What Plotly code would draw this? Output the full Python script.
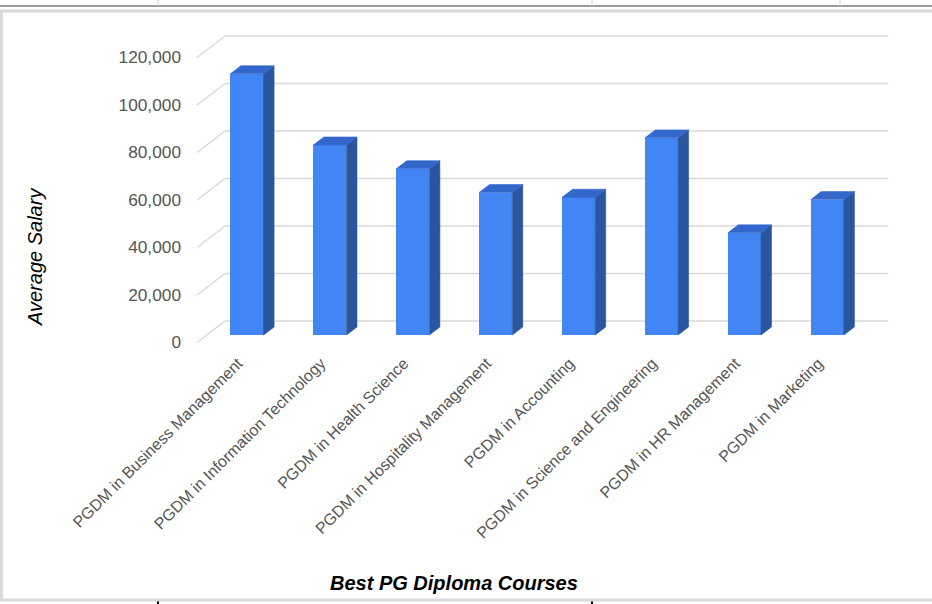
import plotly.graph_objects as go

# ---------------- data ----------------
categories = [
    "PGDM in Business Management",
    "PGDM in Information Technology",
    "PGDM in Health Science",
    "PGDM in Hospitality Management",
    "PGDM in Accounting",
    "PGDM in Science and Engineering",
    "PGDM in HR Management",
    "PGDM in Marketing",
]
salaries = [110000, 80000, 70000, 60000, 58000, 83000, 43000, 57000]
y_ticks = [0, 20000, 40000, 60000, 80000, 100000, 120000]
y_tick_labels = ["0", "20,000", "40,000", "60,000", "80,000", "100,000", "120,000"]
x_title = "Best PG Diploma Courses"
y_title = "Average Salary"

# ---------------- geometry (pixels) ----------------
W, H = 932, 604
L_PX, R_PX, T_PX, B_PX = 188, 900, 25, 345
X0_PX, PX_PER_X = 247.0, 82.9          # pixel of category 0, pixels per category
Y0_PX, PX_PER_Y = 335.0, 0.002375       # pixel of value 0, pixels per unit value

x_range = [(L_PX - X0_PX) / PX_PER_X, (R_PX - X0_PX) / PX_PER_X]
y_range = [-(B_PX - Y0_PX) / PX_PER_Y, (Y0_PX - T_PX) / PX_PER_Y]

def dxu(px):
    return px / PX_PER_X

def dyu(px):
    return px / PX_PER_Y

def xp(px):
    return (px - L_PX) / (R_PX - L_PX)

def yp(py):
    return (B_PX - py) / (B_PX - T_PX)

BAR_W = 0.4
DEPTH_X, DEPTH_Y = dxu(10.5), dyu(8)      # bar depth offsets
BACK_X, BACK_Y = dxu(19.5), dyu(14)       # bar plane -> back wall
FRONT_X, FRONT_Y = dxu(-8.5), dyu(-7.5)   # bar plane -> front floor edge

FRONT_C = "#4285f4"
SIDE_C = "#2a56a0"
TOP_C = "#3367cc"
GRID_C = "#d9d9d9"

fig = go.Figure()

# side and top faces (pseudo 3D)
n = len(categories)
for i, v in enumerate(salaries):
    x0 = i - BAR_W / 2
    x1 = i + BAR_W / 2
    fig.add_trace(go.Scatter(
        x=[x1, x1 + DEPTH_X, x1 + DEPTH_X, x1, x1],
        y=[0, DEPTH_Y, v + DEPTH_Y, v, 0],
        mode="lines", fill="toself", fillcolor=SIDE_C,
        line=dict(color=SIDE_C, width=0.6), hoverinfo="skip", showlegend=False))
    fig.add_trace(go.Scatter(
        x=[x0, x0 + DEPTH_X, x1 + DEPTH_X, x1, x0],
        y=[v, v + DEPTH_Y, v + DEPTH_Y, v, v],
        mode="lines", fill="toself", fillcolor=TOP_C,
        line=dict(color=TOP_C, width=0.6), hoverinfo="skip", showlegend=False))

# front faces
fig.add_trace(go.Bar(
    x=list(range(n)), y=salaries, width=BAR_W,
    marker=dict(color=FRONT_C, line=dict(width=0)),
    hovertext=categories, hoverinfo="text+y", showlegend=False))

# back wall gridlines + floor diagonals
shapes = []
for t in y_ticks:
    shapes.append(dict(type="line", xref="x", yref="y", layer="below",
                       x0=-0.5 + BACK_X, x1=n - 0.5 + BACK_X,
                       y0=t + BACK_Y, y1=t + BACK_Y,
                       line=dict(color=GRID_C, width=1.6)))
    shapes.append(dict(type="line", xref="x", yref="y", layer="below",
                       x0=-0.5 + FRONT_X, x1=-0.5 + BACK_X,
                       y0=t + FRONT_Y, y1=t + BACK_Y,
                       line=dict(color=GRID_C, width=1.4)))

# spreadsheet surroundings / chart frame (paper coordinates)
shapes.append(dict(type="line", xref="paper", yref="paper", x0=xp(0), x1=xp(W),
                   y0=yp(6), y1=yp(6), line=dict(color="#9a9a9a", width=2)))
for vx in (158, 592, 840):
    shapes.append(dict(type="line", xref="paper", yref="paper", x0=xp(vx), x1=xp(vx),
                       y0=yp(0), y1=yp(6), line=dict(color="#cfcfcf", width=1)))
for vx in (158, 592):
    shapes.append(dict(type="line", xref="paper", yref="paper", x0=xp(vx), x1=xp(vx),
                       y0=yp(601), y1=yp(604), line=dict(color="#000000", width=2)))
shapes.append(dict(type="rect", xref="paper", yref="paper",
                   x0=xp(1.5), x1=xp(W + 10), y0=yp(11), y1=yp(600),
                   line=dict(color="#dadada", width=3)))

fig.update_layout(
    width=W, height=H,
    margin=dict(l=L_PX, r=W - R_PX, t=T_PX, b=H - B_PX),
    paper_bgcolor="white", plot_bgcolor="white",
    shapes=shapes,
    bargap=0,
    font=dict(family="Arial, 'Liberation Sans', sans-serif"),
    xaxis=dict(range=x_range, tickmode="array", tickvals=list(range(n)),
               ticktext=categories, tickangle=-45, showgrid=False, zeroline=False,
               showline=False, ticks="", ticklabelstandoff=5, ticklabelshift=-9,
               tickfont=dict(size=16, color="#555555")),
    yaxis=dict(range=y_range, tickmode="array", tickvals=y_ticks,
               ticktext=y_tick_labels, showgrid=False, zeroline=False,
               showline=False, ticks="", ticklabelshift=7, ticklabelstandoff=6,
               tickfont=dict(size=17.3, color="#555555")),
    annotations=[
        dict(text="<i>" + y_title + "</i>", xref="paper", yref="paper",
             x=xp(35), y=yp(257), showarrow=False, textangle=-90,
             font=dict(size=20, color="#000000"),
             xanchor="center", yanchor="middle"),
        dict(text="<b><i>" + x_title + "</i></b>", xref="paper", yref="paper",
             x=xp(454), y=yp(583), showarrow=False,
             font=dict(size=20, color="#000000"),
             xanchor="center", yanchor="middle"),
    ],
)

fig.write_html("out.html")
